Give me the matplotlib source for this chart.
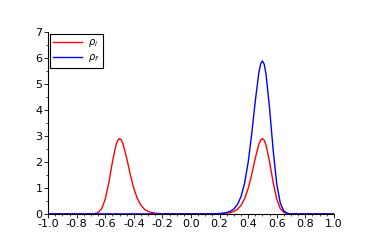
import matplotlib
matplotlib.use("Agg")
import matplotlib.pyplot as plt
from matplotlib.ticker import MultipleLocator

# valeurs (x, densite)
x_rho_i = [-1.0, -0.75, -0.725, -0.7, -0.675, -0.65, -0.625, -0.6, -0.575, -0.55, -0.525,
           -0.5125, -0.5, -0.4875, -0.475, -0.45, -0.425, -0.4, -0.375, -0.35, -0.325,
           -0.3, -0.275, -0.25, -0.225, -0.2, -0.175, -0.15, -0.1,
           0.1, 0.15, 0.175, 0.2, 0.225, 0.25, 0.275, 0.3, 0.325, 0.35, 0.375, 0.4,
           0.425, 0.45, 0.475, 0.4875, 0.5, 0.5125, 0.525, 0.55, 0.575, 0.6, 0.625,
           0.65, 0.675, 0.7, 0.725, 0.75, 1.0]
y_rho_i = [0.0, 0.0, 0.0001, 0.0013, 0.0099, 0.053, 0.204, 0.57, 1.211, 2.002, 2.655,
           2.838, 2.9, 2.841, 2.678, 2.142, 1.519, 0.977, 0.581, 0.327, 0.176,
           0.093, 0.049, 0.026, 0.014, 0.008, 0.0045, 0.003, 0.0,
           0.0, 0.003, 0.0045, 0.008, 0.014, 0.026, 0.049, 0.093, 0.176, 0.327, 0.581, 0.977,
           1.519, 2.142, 2.678, 2.841, 2.9, 2.838, 2.655, 2.002, 1.211, 0.57, 0.204,
           0.053, 0.0099, 0.0013, 0.0001, 0.0, 0.0]

x_rho_f = [-1.0, 0.1, 0.15, 0.175, 0.2, 0.225, 0.25, 0.275, 0.3, 0.325, 0.35, 0.375, 0.4,
           0.425, 0.45, 0.475, 0.4875, 0.5, 0.5125, 0.525, 0.55, 0.575, 0.6, 0.625,
           0.65, 0.675, 0.7, 0.725, 0.75, 1.0]
y_rho_f = [0.0, 0.0, 0.006, 0.009, 0.016, 0.028, 0.053, 0.099, 0.189, 0.357, 0.664, 1.18, 1.98,
           3.08, 4.35, 5.44, 5.77, 5.89, 5.76, 5.39, 4.06, 2.46, 1.16, 0.414,
           0.108, 0.02, 0.003, 0.0002, 0.0, 0.0]

fig = plt.figure(figsize=(3.82, 2.45), dpi=100)
ax = fig.add_axes([0.126, 0.127, 0.748, 0.742])

ax.plot(x_rho_i, y_rho_i, color='red', lw=1.0, label=r'$\rho_i$')
ax.plot(x_rho_f, y_rho_f, color='blue', lw=1.0, label=r'$\rho_f$')

ax.set_xlim(-1.0, 1.0)
ax.set_ylim(0, 7)
ax.xaxis.set_major_locator(MultipleLocator(0.2))
ax.xaxis.set_minor_locator(MultipleLocator(0.05))
ax.yaxis.set_major_locator(MultipleLocator(1))
ax.yaxis.set_minor_locator(MultipleLocator(0.5))
ax.xaxis.set_major_formatter(plt.FuncFormatter(lambda v, p: "%.1f" % v))

for s in ['top', 'right']:
    ax.spines[s].set_visible(False)
ax.spines['left'].set_linewidth(0.8)
ax.spines['bottom'].set_linewidth(0.8)
ax.tick_params(which='major', direction='out', length=3, width=0.6, labelsize=8, pad=1)
ax.tick_params(which='minor', direction='out', length=1.5, width=0.5)

leg = ax.legend(loc='upper left', fontsize=7, fancybox=False, framealpha=1,
                edgecolor='black', borderaxespad=0.15, handlelength=3.0,
                borderpad=0.35, labelspacing=0.35, handletextpad=0.6)
leg.get_frame().set_linewidth(0.8)

fig.savefig("out.png", dpi=100)
